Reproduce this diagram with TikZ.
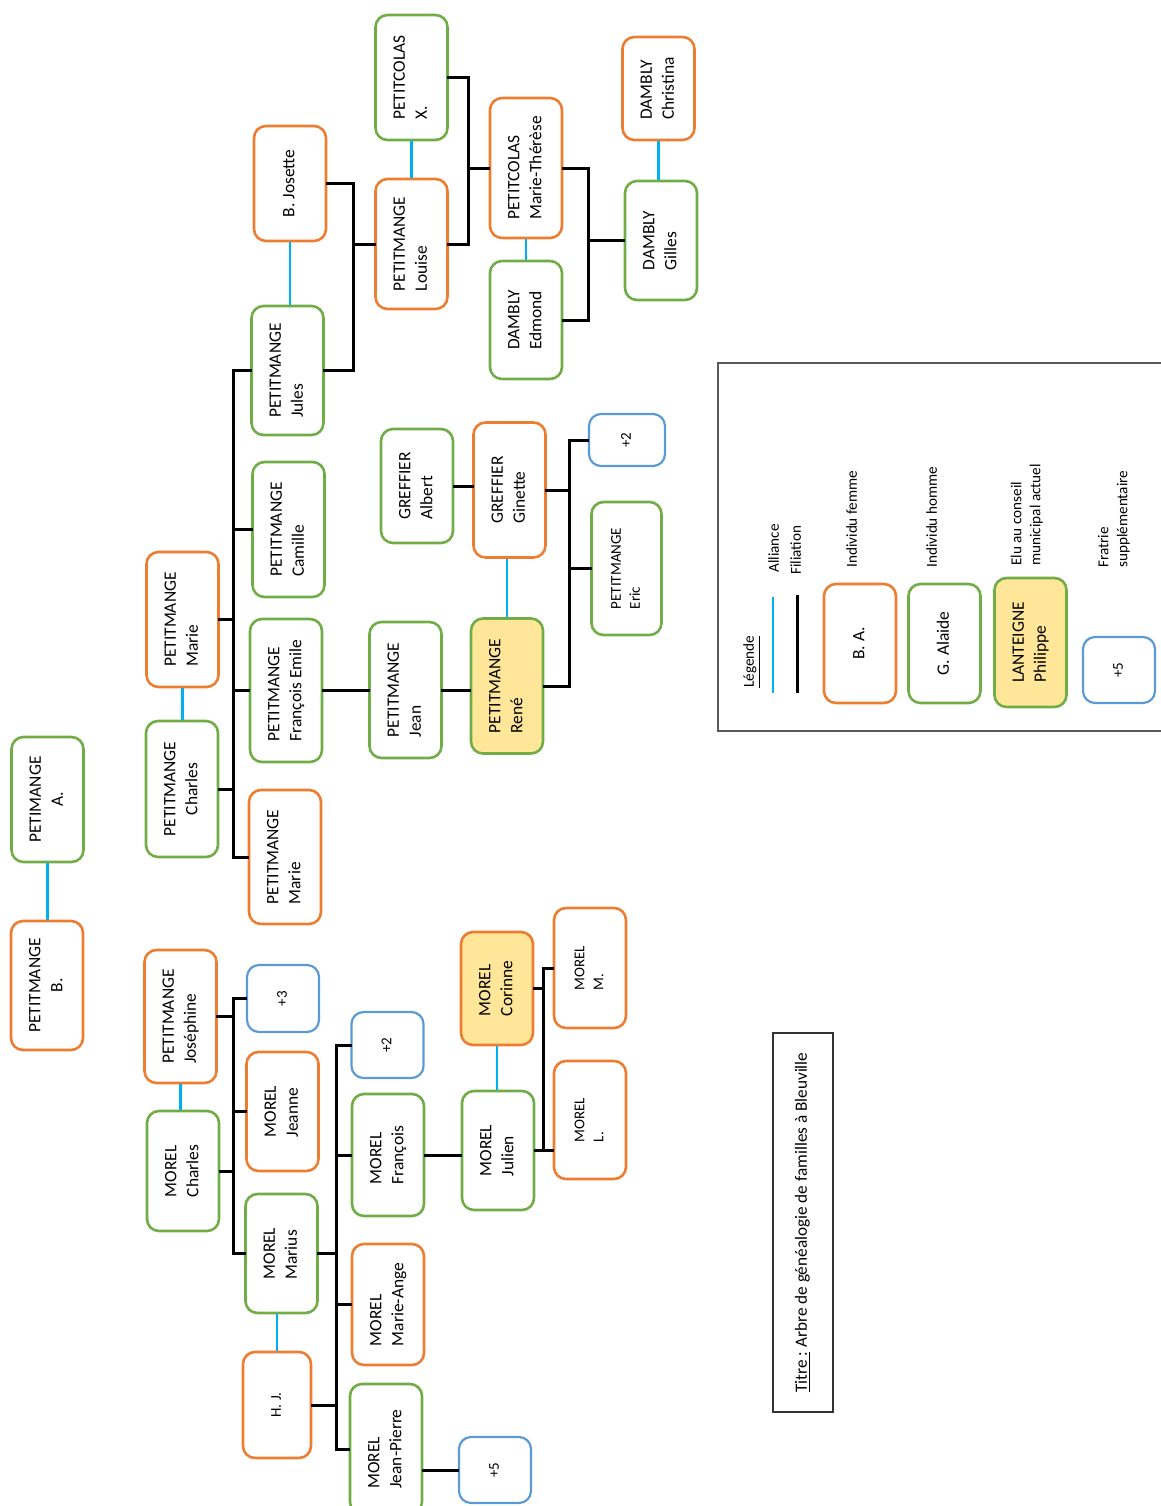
\documentclass[tikz,border=0pt]{standalone}
\usepackage{fontspec}
\setmainfont{Carlito}
\usepackage{graphicx}
\usepackage{xcolor}
\definecolor{famorange}{RGB}{237,125,49}
\definecolor{famgreen}{RGB}{112,173,71}
\definecolor{famblue}{RGB}{91,155,213}
\definecolor{famcyan}{RGB}{0,176,240}
\definecolor{famyellow}{RGB}{255,230,153}
\usetikzlibrary{calc}
% rotated label, lines read from bottom to top
\newcommand{\vlab}[2][l]{\rotatebox{90}{\begin{tabular}{@{}#1@{}}#2\end{tabular}}}

\begin{document}
\begin{tikzpicture}[x=0.5pt, y=-0.5pt,
  person/.style={
    draw, rounded corners=6pt, line width=1.3pt, fill=white,
    minimum width=36pt, inner sep=0pt, font=\fontsize{8.7}{11}\selectfont
  },
  femme/.style={person, draw=famorange},
  homme/.style={person, draw=famgreen},
  fratrie/.style={person, draw=famblue, line width=1.1pt, font=\fontsize{7.5}{9.5}\selectfont},
  elu/.style={fill=famyellow},
  small/.style={font=\fontsize{7.5}{9.5}\selectfont},
  alliance/.style={famcyan, line width=1.3pt},
  filiation/.style={black, line width=1.5pt, line cap=rect},
  legtext/.style={inner sep=0pt, anchor=south, font=\fontsize{7.6}{9.5}\selectfont},
]
\useasboundingbox (0,0) rectangle (1161,1506);

% Ancetres
\node[homme, minimum height=62.5pt] (petimangeA) at (47.5,799.5) {\vlab[c]{PETIMANGE\\A.}};
\node[femme, minimum height=64.5pt] (petitmangeB) at (47,985.5) {\vlab[c]{PETITMANGE\\B.}};

% Branche PETITMANGE
\node[femme, minimum height=67.5pt] (marieP) at (182.5,619.5) {\vlab{PETITMANGE\\Marie}};
\node[homme, minimum height=68pt] (charlesP) at (182,789) {\vlab[c]{PETITMANGE\\Charles}};
\node[homme, minimum height=64.5pt] (jules) at (287.5,370.5) {\vlab{PETITMANGE\\Jules}};
\node[homme, minimum height=67.5pt] (camille) at (288.5,529.5) {\vlab{PETITMANGE\\Camille}};
\node[homme, minimum height=71.5pt] (francoisE) at (286,690.5) {\vlab{PETITMANGE\\François Emile}};
\node[femme, minimum height=67pt] (marieF) at (285,857) {\vlab{PETITMANGE\\Marie}};
\node[femme, minimum height=57.5pt] (josette) at (290,183.5) {\vlab{B. Josette}};
\node[femme, minimum height=65pt] (louise) at (411.5,244) {\vlab{PETITMANGE\\Louise}};
\node[homme, minimum height=62.5pt] (petitcolasX) at (411.5,77.5) {\vlab{PETITCOLAS\\X.}};
\node[femme, minimum height=70pt] (mariethe) at (526,168) {\vlab{PETITCOLAS\\Marie-Thérèse}};
\node[homme, minimum height=59pt] (edmond) at (526,320) {\vlab{DAMBLY\\Edmond}};
\node[homme, minimum height=59.5pt] (gilles) at (661,240.5) {\vlab{DAMBLY\\Gilles}};
\node[femme, minimum height=51.5pt] (christina) at (658.5,88.5) {\vlab{DAMBLY\\Christina}};
\node[homme, minimum height=68pt] (jean) at (405.5,690) {\vlab{PETITMANGE\\Jean}};
\node[homme, elu, minimum height=67.5pt] (rene) at (507,686) {\vlab{PETITMANGE\\René}};
\node[femme, minimum height=67.5pt] (ginette) at (509.5,490) {\vlab{GREFFIER\\Ginette}};
\node[homme, minimum height=57pt] (albert) at (417,486) {\vlab{GREFFIER\\Albert}};
\node[fratrie, minimum width=38pt, minimum height=26pt] (plusRene) at (627,440) {\vlab{+2}};
\node[homme, small, minimum width=35pt, minimum height=66.5pt] (eric) at (626.5,568.5) {\vlab{PETITMANGE\\Eric}};

% Branche MOREL
\node[femme, minimum height=66.5pt] (josephine) at (180.5,1016.5) {\vlab{PETITMANGE\\Joséphine}};
\node[homme, minimum height=60pt] (charlesM) at (183,1171) {\vlab{MOREL\\Charles}};
\node[fratrie, minimum height=33.5pt] (plusCharles) at (283,998.5) {\vlab{+3}};
\node[femme, minimum height=59.5pt] (jeanne) at (282.5,1111.5) {\vlab{MOREL\\Jeanne}};
\node[homme, minimum height=59.5pt] (marius) at (281.5,1253.5) {\vlab{MOREL\\Marius}};
\node[femme, small, minimum width=34pt, minimum height=53pt] (hj) at (277,1405) {\vlab{H. J.}};
\node[fratrie, minimum height=33pt] (plusMarius) at (387.5,1045) {\vlab{+2}};
\node[homme, minimum height=61pt] (francoisM) at (388,1155) {\vlab{MOREL\\François}};
\node[femme, minimum height=60.5pt] (marieAnge) at (388,1304.5) {\vlab{MOREL\\Marie-Ange}};
\node[homme, minimum height=65pt] (jeanPierre) at (386,1449) {\vlab{MOREL\\Jean-Pierre}};
\node[fratrie, minimum height=33pt] (plusJP) at (495,1470) {\vlab{+5}};
\node[homme, minimum height=59.5pt] (julien) at (498,1150.5) {\vlab{MOREL\\Julien}};
\node[femme, elu, minimum height=56.5pt] (corinne) at (497,988.5) {\vlab{MOREL\\Corinne}};
\node[femme, small, minimum height=60pt] (morelM) at (590,968) {\vlab{MOREL\\M.}};
\node[femme, small, minimum height=59pt] (morelL) at (590,1120) {\vlab{MOREL\\L.}};

% Alliances
\draw[alliance] (petimangeA.south) -- (petimangeA.south |- petitmangeB.north);
\draw[alliance] (marieP.south) -- (marieP.south |- charlesP.north);
\draw[alliance] (josette.south) -- (josette.south |- jules.north);
\draw[alliance] (petitcolasX.south) -- (petitcolasX.south |- louise.north);
\draw[alliance] (mariethe.south) -- (mariethe.south |- edmond.north);
\draw[alliance] (christina.south) -- (christina.south |- gilles.north);
\draw[alliance] (rene.north) -- (rene.north |- ginette.south);
\draw[alliance] (josephine.south) -- (josephine.south |- charlesM.north);
\draw[alliance] (hj.north) -- (hj.north |- marius.south);
\draw[alliance] (corinne.south) -- (corinne.south |- julien.north);

% Filiations
\coordinate (busCharles) at (233,0);
\coordinate (busJules) at (353,0);
\coordinate (busLouise) at (468,0);
\coordinate (busMarieT) at (588,0);
\coordinate (busRene) at (569,0);
\coordinate (busMorel) at (233,0);
\coordinate (busMarius) at (336,0);
\coordinate (busJulien) at (543,0);

\foreach \n in {marieP.east, charlesP.east, jules.west, camille.west, francoisE.west, marieF.west}
  \draw[filiation] (\n) -- (\n -| busCharles);
\draw[filiation] (jules.west -| busCharles) -- (marieF.west -| busCharles);

\foreach \n in {josette.east, jules.east, louise.west}
  \draw[filiation] (\n) -- (\n -| busJules);
\draw[filiation] (josette.east -| busJules) -- (jules.east -| busJules);

\foreach \n in {petitcolasX.east, louise.east, mariethe.west}
  \draw[filiation] (\n) -- (\n -| busLouise);
\draw[filiation] (petitcolasX.east -| busLouise) -- (louise.east -| busLouise);

\foreach \n in {mariethe.east, edmond.east, gilles.west}
  \draw[filiation] (\n) -- (\n -| busMarieT);
\draw[filiation] (mariethe.east -| busMarieT) -- (edmond.east -| busMarieT);

\draw[filiation] (francoisE.east) -- (francoisE.east -| jean.west);
\draw[filiation] (jean.east) -- (jean.east -| rene.west);
\draw[filiation] (albert.east) -- (albert.east -| ginette.west);

\foreach \n in {rene.east, ginette.east, plusRene.west, eric.west}
  \draw[filiation] (\n) -- (\n -| busRene);
\draw[filiation] (plusRene.west -| busRene) -- (rene.east -| busRene);

\foreach \n in {josephine.east, charlesM.east, plusCharles.west, jeanne.west, marius.west}
  \draw[filiation] (\n) -- (\n -| busMorel);
\draw[filiation] (plusCharles.west -| busMorel) -- (marius.west -| busMorel);

\foreach \n in {marius.east, hj.east, plusMarius.west, francoisM.west, marieAnge.west, jeanPierre.west}
  \draw[filiation] (\n) -- (\n -| busMarius);
\draw[filiation] (plusMarius.west -| busMarius) -- (jeanPierre.west -| busMarius);

\draw[filiation] (francoisM.east) -- (francoisM.east -| julien.west);
\draw[filiation] (plusJP.west -| jeanPierre.east) -- (plusJP.west);

\foreach \n in {corinne.east, julien.east, morelM.west}
  \draw[filiation] (\n) -- (\n -| busJulien);
\draw[filiation] (julien.east -| busJulien) -- (julien.east -| morelL.west);
\draw[filiation] (morelM.west -| busJulien) -- (julien.east -| busJulien);

% Legende
\draw[gray!70!black, line width=0.8pt] (1175,363) -| (718,731) -- (1175,731);
\node[legtext] (legende) at (752,688) {\rotatebox{90}{\underline{Légende}}};
\draw[alliance] (773,597) -- (773,693);
\draw[filiation, line cap=butt] (797,595) -- (797,693);
\node[legtext] (txtAlliance) at (775,573) {\vlab{Alliance}};
\node[legtext] (txtFiliation) at (797,575) {\vlab{Filiation}};
\node[femme, minimum height=59.5pt] (legFemme) at (860,643.5) {\vlab{B. A.}};
\node[legtext] (txtFemme) at (853,568) {\vlab{Individu femme}};
\node[homme, minimum height=59.5pt] (legHomme) at (944.5,643.5) {\vlab{G. Alaide}};
\node[legtext] (txtHomme) at (933,568) {\vlab{Individu homme}};
\node[homme, elu, minimum height=64.5pt] (legElu) at (1030.5,642.5) {\vlab{LANTEIGNE\\Philippe}};
\node[legtext] (txtElu) at (1027,566) {\vlab{Elu au conseil\\municipal actuel}};
\node[fratrie, minimum height=33pt] (legFratrie) at (1119,670) {\vlab{+5}};
\node[legtext] (txtFratrie) at (1114,568) {\vlab{Fratrie\\supplémentaire}};

% Titre
\node[draw=black!80, line width=0.6pt, minimum width=30pt, minimum height=189.5pt,
  inner sep=0pt, font=\fontsize{8.6}{10}\selectfont] (titre) at (803,1222.5)
  {\rotatebox{90}{\underline{Titre :}\ Arbre de généalogie de familles à Bleuville}};

\end{tikzpicture}
\end{document}
